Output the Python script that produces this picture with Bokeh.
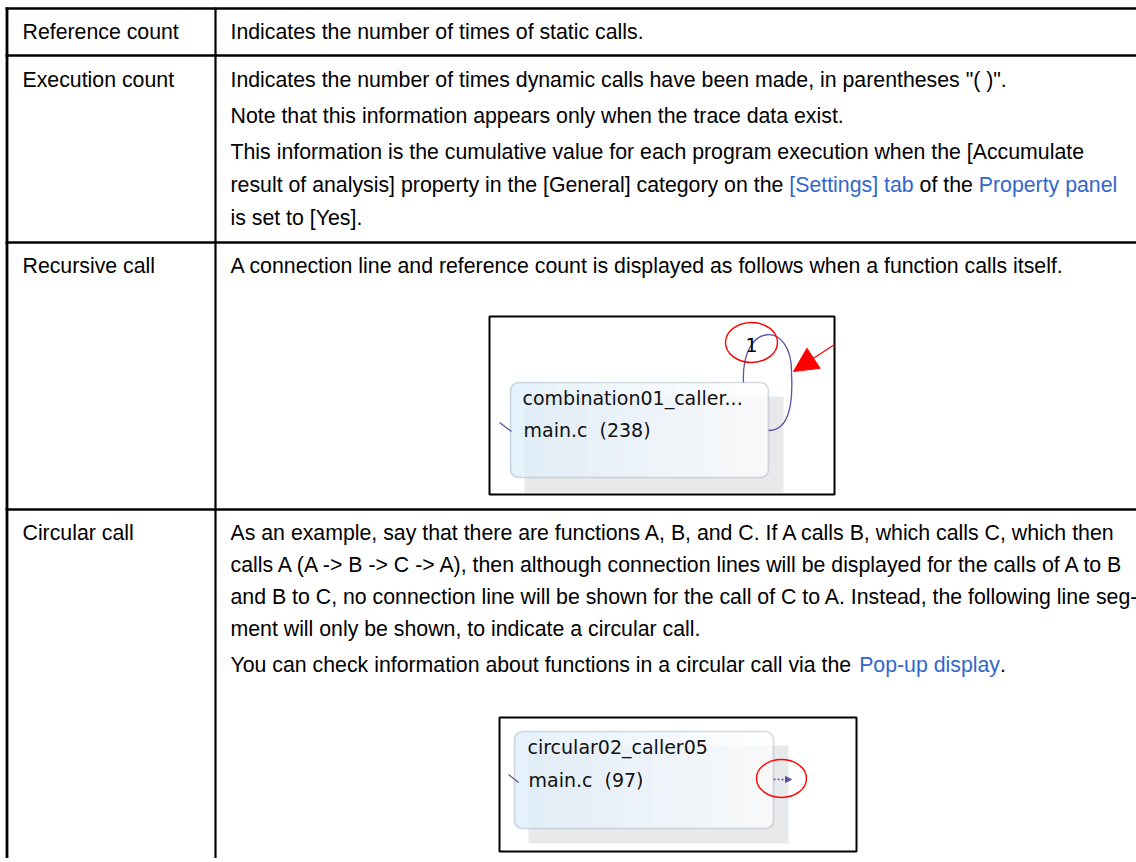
import math
from bokeh.plotting import figure
from bokeh.models import Range1d, BoxAnnotation, Arrow, NormalHead
from bokeh.core.properties import value
from bokeh.embed import file_html
from bokeh.resources import INLINE

# ---------------- content ----------------
row_labels = ["Reference count", "Execution count", "Recursive call", "Circular call"]

desc_reference = [
    [("Indicates the number of times of static calls.", False)],
]
desc_execution = [
    [('Indicates the number of times dynamic calls have been made, in parentheses "( )".', False)],
    [("Note that this information appears only when the trace data exist.", False)],
    [("This information is the cumulative value for each program execution when the [Accumulate", False)],
    [("result of analysis] property in the [General] category on the ", False), ("[Settings] tab", True),
     (" of the ", False), ("Property panel", True)],
    [("is set to [Yes].", False)],
]
desc_recursive = [
    [("A connection line and reference count is displayed as follows when a function calls itself.", False)],
]
desc_circular = [
    [("As an example, say that there are functions A, B, and C. If A calls B, which calls C, which then", False)],
    [("calls A (A -> B -> C -> A), then although connection lines will be displayed for the calls of A to B", False)],
    [("and B to C, no connection line will be shown for the call of C to A. Instead, the following line seg-", False)],
    [("ment will only be shown, to indicate a circular call.", False)],
    [("You can check information about functions in a circular call via the ", False), ("Pop-up display", True),
     (".", False)],
]
descriptions = [desc_reference, desc_execution, desc_recursive, desc_circular]

node1_title = "combination01_caller..."
node1_file = "main.c"
node1_line = "(238)"
node1_ref_count = "1"
node2_title = "circular02_caller05"
node2_file = "main.c"
node2_line = "(97)"

# ---------------- layout (screen pixels) ----------------
W, H = 1136, 858
FS = 21.3
LX, RX = 22, 230
rule_ys = [8, 55, 242, 509]
text_ys = [[31], [79, 115, 151, 184, 217], [265], [532, 564, 596, 628, 664]]
TEXT_COLOR = "#000000"
LINK_COLOR = "#3366cc"

ARIAL = {' ': 278, '!': 278, '"': 355, '#': 556, '$': 556, '%': 889, '&': 667, "'": 191, '(': 333, ')': 333,
         '*': 389, '+': 584, ',': 278, '-': 333, '.': 278, '/': 278, ':': 278, ';': 278, '<': 584, '=': 584,
         '>': 584, '?': 556, '@': 1015, 'A': 667, 'B': 667, 'C': 722, 'D': 722, 'E': 667, 'F': 611, 'G': 778,
         'H': 722, 'I': 278, 'J': 500, 'K': 667, 'L': 556, 'M': 833, 'N': 722, 'O': 778, 'P': 667, 'Q': 778,
         'R': 722, 'S': 667, 'T': 611, 'U': 722, 'V': 667, 'W': 944, 'X': 667, 'Y': 667, 'Z': 611, '[': 278,
         '\\': 278, ']': 278, '^': 469, '_': 556, '`': 333, 'a': 556, 'b': 556, 'c': 500, 'd': 556, 'e': 556,
         'f': 278, 'g': 556, 'h': 556, 'i': 222, 'j': 222, 'k': 500, 'l': 222, 'm': 833, 'n': 556, 'o': 556,
         'p': 556, 'q': 556, 'r': 333, 's': 500, 't': 278, 'u': 556, 'v': 500, 'w': 722, 'x': 500, 'y': 500,
         'z': 500, '{': 334, '|': 260, '}': 334, '~': 584}
for d in "0123456789":
    ARIAL[d] = 556


def tw(s):
    return sum(ARIAL.get(c, 556) for c in s) / 1000.0 * FS


p = figure(width=W, height=H, x_range=Range1d(0, W), y_range=Range1d(H, 0),
           x_axis_type=None, y_axis_type=None, toolbar_location=None,
           output_backend="svg", min_border=0)
p.outline_line_color = None
p.background_fill_color = "white"
p.border_fill_color = "white"
p.grid.visible = False

# ---------------- table rules ----------------
p.segment(x0=[5] * 4, y0=rule_ys, x1=[W] * 4, y1=rule_ys, line_color="black",
          line_width=[2.6, 2.3, 2.3, 2.3])
p.segment(x0=[6.5, 215], y0=[7, 7], x1=[6.5, 215], y1=[H, H], line_color="black",
          line_width=[2.8, 2.2])

# ---------------- texts ----------------
tx, ty, tt, tc = [], [], [], []
for label, ys in zip(row_labels, text_ys):
    tx.append(LX); ty.append(ys[0]); tt.append(label); tc.append(TEXT_COLOR)
for desc, ys in zip(descriptions, text_ys):
    for segs, y in zip(desc, ys):
        prefix = ""
        for s, link in segs:
            lead = len(s) - len(s.lstrip(" "))
            tx.append(RX + tw(prefix + s[:lead]))
            ty.append(y)
            tt.append(s.strip())
            tc.append(LINK_COLOR if link else TEXT_COLOR)
            prefix += s
p.text(x=tx, y=ty, text=tt, text_color=tc, text_font=value("Liberation Sans"),
       text_font_size=f"{FS}px", text_baseline="middle", text_align="left")


# ---------------- screenshot helpers ----------------
def node(x0, y0, x1, y1, r=8):
    # shadow
    p.quad(left=[x0 + 14], right=[x1 + 15], top=[y0 + 14], bottom=[y1 + 15],
           fill_color="#e8e9eb", line_color=None)
    L, R, T, B, C = [], [], [], [], []
    w = int(x1 - x0)
    for i in range(w):
        xc = x0 + i + 0.5
        dx = min(xc - x0, x1 - xc)
        inset = r - math.sqrt(max(r * r - (r - dx) ** 2, 0)) if dx < r else 0
        t = i / w
        cr = int(221 + (255 - 221) * t)
        cg = int(238 + (255 - 238) * t)
        cb = int(252 + (255 - 252) * t)
        L.append(x0 + i); R.append(x0 + i + 1); T.append(y0 + inset); B.append(y1 - inset)
        C.append("#%02x%02x%02x" % (cr, cg, cb))
    p.quad(left=L, right=R, top=T, bottom=B, fill_color=C, line_color=None)
    p.add_layout(BoxAnnotation(left=x0, right=x1, top=y0, bottom=y1, border_radius=r,
                               fill_alpha=0, line_color="#7d8ca2", line_width=1.7))


def frame(x0, y0, x1, y1):
    p.quad(left=[x0], right=[x1], top=[y0], bottom=[y1], fill_color=None,
           line_color="black", line_width=2)


SFONT = value("DejaVu Sans")
SCOLOR = "#111111"
EDGE = "#5b52a3"

# ---- screenshot 1 : recursive call ----
frame(489, 316, 834, 494)
node(510, 382, 768, 477)
p.text(x=[522, 523, 599], y=[397, 429, 429], text=[node1_title, node1_file, node1_line],
       text_font=SFONT, text_font_size="19px", text_color=SCOLOR, text_baseline="middle")
p.segment(x0=[499], y0=[422], x1=[511], y1=[431], line_color=EDGE, line_width=1.2)
p.bezier(x0=[743, 791], y0=[382, 372], x1=[791, 768], y1=[372, 430],
         cx0=[740, 793], cy0=[320, 410], cx1=[792, 786], cy1=[320, 430],
         line_color=EDGE, line_width=1.3)
p.text(x=[751], y=[344], text=[node1_ref_count], text_font=SFONT, text_font_size="19px",
       text_color="black", text_baseline="middle", text_align="center")
p.ellipse(x=[751], y=[342], width=[52], height=[40], fill_color=None, line_color="red", line_width=1.4)
p.add_layout(Arrow(end=NormalHead(size=24, fill_color="red", line_color="red"),
                   x_start=834, y_start=344, x_end=793, y_end=371, line_color="red", line_width=1.2))

# ---- screenshot 2 : circular call ----
frame(499, 717, 856, 851)
node(514, 731, 773, 828)
p.text(x=[527, 528, 604], y=[746, 779, 779], text=[node2_title, node2_file, node2_line],
       text_font=SFONT, text_font_size="19px", text_color=SCOLOR, text_baseline="middle")
p.segment(x0=[508], y0=[774], x1=[518], y1=[782], line_color=EDGE, line_width=1.2)
p.add_layout(Arrow(end=NormalHead(size=6, fill_color=EDGE, line_color=EDGE),
                   x_start=773, y_start=779, x_end=791, y_end=779, line_color=EDGE,
                   line_width=1.3, line_dash="2 2"))
p.ellipse(x=[781], y=[778], width=[50], height=[38], fill_color=None, line_color="red", line_width=1.4)

open("out.html", "w").write(file_html(p, INLINE))
